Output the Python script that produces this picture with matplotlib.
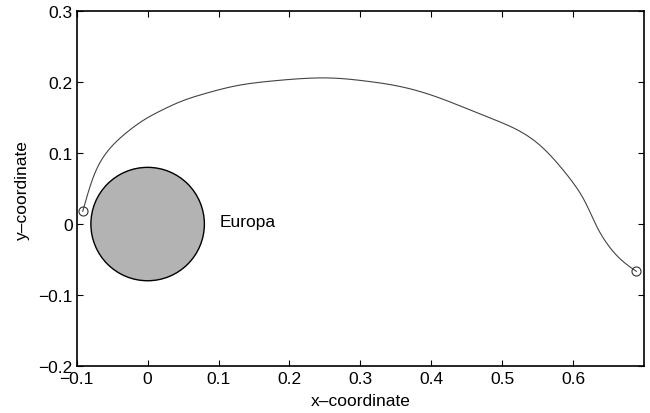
import matplotlib
matplotlib.use("Agg")
import matplotlib.pyplot as plt
import numpy as np

plt.rcParams['font.family'] = ['Liberation Sans', 'DejaVu Sans']

# trajectory
traj_x = [-0.0915, -0.0873, -0.080, -0.0686, -0.0498, -0.0263, -0.003,
          0.0206, 0.044, 0.0797, 0.1268, 0.1737, 0.2206, 0.258, 0.305,
          0.352, 0.399, 0.446, 0.493, 0.5258, 0.549, 0.5727, 0.596, 0.615,
          0.629, 0.643, 0.657, 0.671, 0.689]
traj_y = [0.018, 0.033, 0.057, 0.085, 0.111, 0.132, 0.1486,
          0.161, 0.172, 0.1838, 0.1956, 0.2017, 0.2055, 0.2062, 0.2021,
          0.195, 0.1824, 0.1645, 0.1457, 0.1307, 0.115, 0.0917, 0.0635, 0.0353,
          0.0047, -0.0212, -0.040, -0.054, -0.0667]

europa_center = (0.0, 0.0)
europa_radius = 0.08
europa_label = "Europa"

xticks = [-0.1, 0, 0.1, 0.2, 0.3, 0.4, 0.5, 0.6]
yticks = [-0.2, -0.1, 0, 0.1, 0.2, 0.3]


def fmt(v):
    if v == 0:
        return "0"
    s = "%g" % abs(v)
    return ("\u2212" if v < 0 else "") + s


def natural_spline(t, y, tt):
    # plain natural cubic spline, no scipy here
    n = len(t)
    h = np.diff(t)
    A = np.zeros((n, n))
    b = np.zeros(n)
    A[0, 0] = A[-1, -1] = 1
    for i in range(1, n - 1):
        A[i, i - 1] = h[i - 1]
        A[i, i] = 2 * (h[i - 1] + h[i])
        A[i, i + 1] = h[i]
        b[i] = 3 * ((y[i + 1] - y[i]) / h[i] - (y[i] - y[i - 1]) / h[i - 1])
    c = np.linalg.solve(A, b)
    bb = (np.diff(y) / h) - h * (2 * c[:-1] + c[1:]) / 3
    dd = np.diff(c) / (3 * h)
    idx = np.clip(np.searchsorted(t, tt) - 1, 0, n - 2)
    dx = tt - t[idx]
    return y[idx] + bb[idx] * dx + c[idx] * dx ** 2 + dd[idx] * dx ** 3


def smooth(v, sigma_pts):
    # gaussian smoothing with odd reflection so the ends stay put
    k = int(3 * sigma_pts)
    w = np.exp(-0.5 * (np.arange(-k, k + 1) / sigma_pts) ** 2)
    w /= w.sum()
    left = 2 * v[0] - v[1:k + 1][::-1]
    right = 2 * v[-1] - v[-k - 1:-1][::-1]
    vv = np.concatenate([left, v, right])
    return np.convolve(vv, w, mode='valid')


fig = plt.figure(figsize=(6.5, 4.14), dpi=100)
ax = fig.add_axes([0.118, 0.114, 0.873, 0.856])

px = np.array(traj_x)
py = np.array(traj_y)
d = np.concatenate([[0], np.cumsum(np.hypot(np.diff(px), np.diff(py)))])
s = np.linspace(0, d[-1], 1000)
sx = smooth(natural_spline(d, px, s), 10)
sy = smooth(natural_spline(d, py, s), 10)

ax.plot(sx, sy, color='#444444', lw=0.8)
ax.plot([traj_x[0], traj_x[-1]], [traj_y[0], traj_y[-1]], 'o',
        mfc='none', mec='#333333', ms=6.5, mew=0.8)

circ = plt.Circle(europa_center, europa_radius, facecolor='#b3b3b3',
                  edgecolor='black', lw=1.0)
ax.add_patch(circ)
ax.text(0.102, 0.004, europa_label, fontsize=12.5, va='center', ha='left')

ax.set_xlim(-0.1, 0.7)
ax.set_ylim(-0.2, 0.3)
ax.set_xticks(xticks)
ax.set_yticks(yticks)
ax.set_xticklabels([fmt(v) for v in xticks])
ax.set_yticklabels([fmt(v) for v in yticks])
ax.tick_params(direction='in', top=True, right=True, labelsize=12.5,
               length=4.5, width=0.8)
ax.tick_params(axis='x', pad=4)
ax.tick_params(axis='y', pad=3)
for sp in ax.spines.values():
    sp.set_linewidth(1.2)
ax.set_xlabel("x\u2013coordinate", fontsize=12.5, labelpad=5)
ax.set_ylabel("y\u2013coordinate", fontsize=12.5, labelpad=6)

fig.savefig("out.png", dpi=100)
